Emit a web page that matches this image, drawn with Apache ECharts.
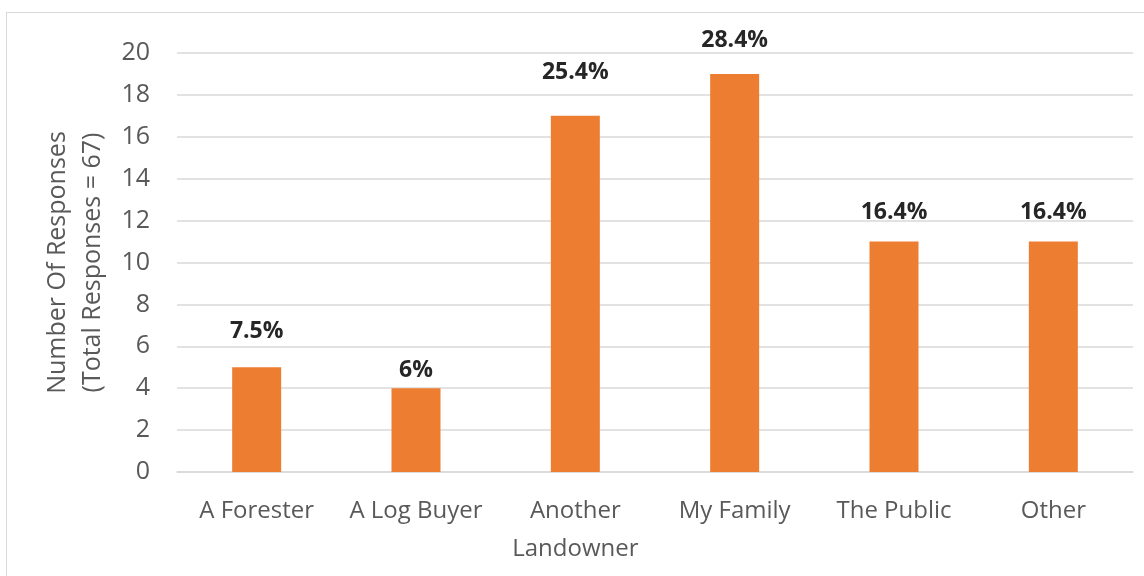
<!DOCTYPE html>
<html>
<head>
    <meta charset="utf-8">
    <script src="https://cdn.jsdelivr.net/npm/echarts@6/dist/echarts.min.js"></script>
    <style type="text/css">
        body {margin:0px;padding:0px;overflow:hidden;background:#fff;}
        #frame {position:absolute;left:6px;top:12px;width:1150px;height:600px;border:1px solid #d9d9d9;}
        #main {position:absolute;left:0;top:0;width:1144px;height:576px;}
    </style>
</head>
<body>
    <div id="frame"></div>
    <div id="main"></div>
    <script type="text/javascript">
        // data
        let categories = ['A Forester', 'A Log Buyer', 'Another\nLandowner', 'My Family', 'The Public', 'Other'];
        let responses = [5, 4, 17, 19, 11, 11];
        let percentLabels = ['7.5%', '6%', '25.4%', '28.4%', '16.4%', '16.4%'];
        // the labels in the original sit at uneven heights above the bars
        let labelGap = [24, 6, 32, 22, 18, 18];

        let myChart = echarts.init(document.getElementById('main'));
        let font = '"Open Sans", "Noto Sans", sans-serif';

        let barData = responses.map(function (v, i) {
            return {value: v, label: {distance: labelGap[i]}};
        });

        let option = {
            animation: false,
            textStyle: {fontFamily: font},
            grid: {left: 177, right: 11, top: 53, bottom: 104},
            xAxis: {
                type: 'category',
                data: categories,
                axisTick: {show: false},
                axisLine: {lineStyle: {color: '#d9d9d9', width: 1.5}},
                axisLabel: {interval: 0, color: '#595959', fontSize: 24, margin: 20, lineHeight: 38, fontFamily: font}
            },
            yAxis: {
                type: 'value',
                min: 0,
                max: 20,
                interval: 2,
                name: 'Number Of Responses\n(Total Responses = 67)',
                nameLocation: 'center',
                nameGap: 65,
                nameTextStyle: {color: '#595959', fontSize: 25, lineHeight: 35, fontFamily: font},
                axisLine: {show: false},
                axisTick: {show: false},
                axisLabel: {color: '#595959', fontSize: 25, margin: 27, fontFamily: font},
                splitLine: {lineStyle: {color: '#d9d9d9', width: 1.5}}
            },
            series: [{
                type: 'bar',
                data: barData,
                barWidth: 49,
                itemStyle: {color: '#ED7D31'},
                label: {
                    show: true,
                    position: 'top',
                    color: '#262626',
                    fontSize: 23,
                    fontWeight: 'bold',
                    fontFamily: font,
                    formatter: function (p) { return percentLabels[p.dataIndex]; }
                }
            }]
        };
        myChart.setOption(option);
        window.onresize = myChart.resize;
    </script>
</body>
</html>
